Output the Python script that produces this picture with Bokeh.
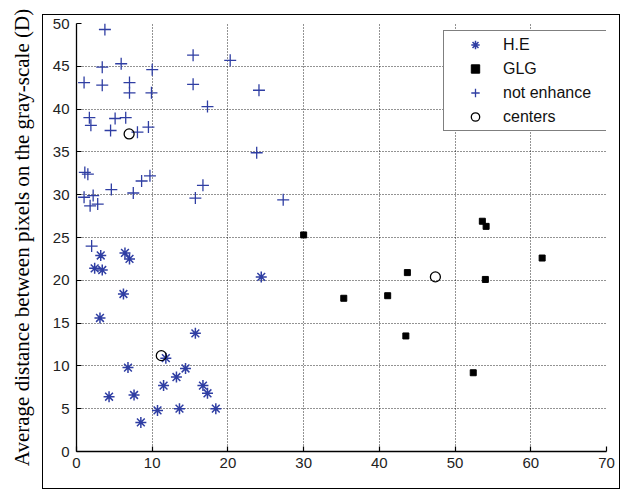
from bokeh.plotting import figure
from bokeh.models import Range1d, FixedTicker, Legend, LegendItem, InlineStyleSheet
from bokeh.embed import file_html
from bokeh.resources import INLINE

# ---- data ----
he_x = [3.2, 2.4, 3.4, 6.4, 7.0, 6.2, 3.1, 24.4, 15.7, 6.8, 11.8, 14.4, 13.2,
        11.5, 16.7, 17.3, 4.3, 7.6, 10.7, 13.6, 18.4, 8.5]
he_y = [22.9, 21.4, 21.2, 23.2, 22.5, 18.4, 15.6, 20.4, 13.8, 9.8, 10.9, 9.7, 8.7,
        7.7, 7.7, 6.8, 6.4, 6.6, 4.8, 5.0, 5.0, 3.4]

glg_x = [30.0, 35.3, 41.1, 43.7, 43.5, 52.4, 53.6, 54.1, 54.0, 61.5]
glg_y = [25.3, 17.9, 18.2, 20.9, 13.5, 9.2, 26.9, 26.3, 20.1, 22.6]

ne_x = [3.75, 3.4, 5.9, 10.0, 1.0, 3.4, 7.0, 7.0, 9.9, 1.7, 5.1, 6.5, 1.9, 4.5,
        8.05, 9.5, 15.4, 20.3, 15.4, 24.1, 17.3, 23.8, 16.7, 15.7, 27.3,
        1.1, 1.5, 4.6, 7.5, 8.6, 9.7, 1.0, 2.2, 1.8, 2.8, 2.0]
ne_y = [49.3, 44.9, 45.3, 44.6, 43.1, 42.8, 43.1, 41.9, 41.9, 39.0, 38.9, 39.0, 38.1, 37.5,
        37.3, 37.9, 46.3, 45.7, 42.9, 42.2, 40.3, 34.9, 31.1, 29.6, 29.4,
        32.6, 32.4, 30.6, 30.2, 31.6, 32.2, 29.7, 29.9, 28.7, 28.9, 24.0]

c_x = [6.95, 11.2, 47.4]
c_y = [37.1, 11.2, 20.4]

x_ticks = [0, 10, 20, 30, 40, 50, 60, 70]
y_ticks = [0, 5, 10, 15, 20, 25, 30, 35, 40, 45, 50]
legend_labels = ["H.E", "GLG", "not enhance", "centers"]
y_label = "Average distance between pixels on the gray-scale (D)"

BLUE = "#2f3ea3"
TICK_FONT = "Liberation Sans"

p = figure(width=623, height=491, output_backend="svg", toolbar_location=None,
           x_range=Range1d(0, 70), y_range=Range1d(0, 50),
           min_border_left=76, min_border_right=17, min_border_top=23,
           min_border_bottom=40)
p.outline_line_color = None
p.background_fill_color = "white"

p.xaxis.ticker = FixedTicker(ticks=x_ticks)
p.yaxis.ticker = FixedTicker(ticks=y_ticks)
for ax in (p.xaxis[0], p.yaxis[0]):
    ax.axis_line_color = "black"
    ax.axis_line_width = 1.3
    ax.major_tick_in = 5
    ax.major_tick_out = 0
    ax.major_tick_line_color = "black"
    ax.major_tick_line_width = 1.2
    ax.minor_tick_line_color = None
    ax.major_label_text_font = TICK_FONT
    ax.major_label_text_font_size = "15px"
    ax.major_label_text_color = "#222222"
p.xaxis.major_label_standoff = 6
p.yaxis.major_label_standoff = 7

p.yaxis.axis_label = y_label
p.yaxis.axis_label_text_font = "Liberation Serif"
p.yaxis.axis_label_text_font_size = "21px"
p.yaxis.axis_label_text_font_style = "normal"
p.yaxis.axis_label_text_color = "black"
p.yaxis.axis_label_standoff = 16

p.xgrid.grid_line_color = "black"
p.ygrid.grid_line_color = "black"
p.xgrid.grid_line_dash = "1 2"
p.ygrid.grid_line_dash = "1 2"
p.xgrid.grid_line_alpha = 0.85
p.ygrid.grid_line_alpha = 0.85
p.xgrid.grid_line_width = 1
p.ygrid.grid_line_width = 1

r_he = p.scatter(he_x, he_y, marker="asterisk", size=11, line_color=BLUE,
                 line_width=1.5)
r_glg = p.scatter(glg_x, glg_y, marker="square", size=6, fill_color="black",
                  line_color="black")
r_ne = p.scatter(ne_x, ne_y, marker="cross", size=12, line_color=BLUE,
                 line_width=1.3)
r_c = p.scatter(c_x, c_y, marker="circle", size=10, fill_color=None,
                line_color="black", line_width=1.3)

legend = Legend(
    items=[LegendItem(label=lab, renderers=[r])
           for lab, r in zip(legend_labels, [r_he, r_glg, r_ne, r_c])],
    location=(367, 320), padding=3, spacing=3, glyph_height=21, glyph_width=56,
    label_height=21, label_width=104, label_standoff=0, margin=0,
    label_text_font="Liberation Sans", label_text_font_size="16px",
    label_text_color="#111111", border_line_color="black",
    border_line_width=1.3, background_fill_color="white",
    background_fill_alpha=1.0)
p.add_layout(legend)

# outer frame (figure border that leaves the y label outside)
p.stylesheets = [InlineStyleSheet(css="""
:host { position: relative; }
:host::after {
  content: "";
  position: absolute;
  left: 42px; top: 14px; width: 578px; height: 475px;
  border: 1.5px solid black;
  box-sizing: border-box;
  pointer-events: none;
}
""")]

open("out.html", "w").write(file_html(p, INLINE))
